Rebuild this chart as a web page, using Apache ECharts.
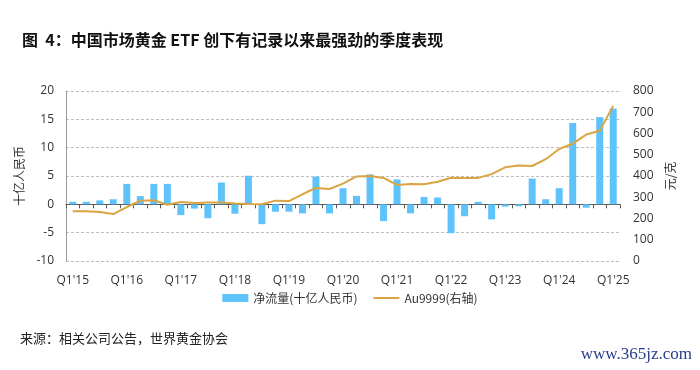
<!DOCTYPE html>
<html><head><meta charset="utf-8">
<script src="https://cdn.jsdelivr.net/npm/echarts@6/dist/echarts.min.js"></script>
<style>html,body{margin:0;padding:0;background:#fff;}#c{width:700px;height:370px;}</style>
</head><body><div id="c"></div>
<script>
var categories = ["Q1'15","Q2'15","Q3'15","Q4'15","Q1'16","Q2'16","Q3'16","Q4'16","Q1'17","Q2'17","Q3'17","Q4'17","Q1'18","Q2'18","Q3'18","Q4'18","Q1'19","Q2'19","Q3'19","Q4'19","Q1'20","Q2'20","Q3'20","Q4'20","Q1'21","Q2'21","Q3'21","Q4'21","Q1'22","Q2'22","Q3'22","Q4'22","Q1'23","Q2'23","Q3'23","Q4'23","Q1'24","Q2'24","Q3'24","Q4'24","Q1'25"];
var netFlows = [0.45,0.45,0.7,0.9,3.6,1.45,3.6,3.6,-1.9,-0.75,-2.45,3.85,-1.65,5.05,-3.5,-1.3,-1.3,-1.6,4.9,-1.6,2.85,1.5,5.3,-2.95,4.4,-1.6,1.3,1.2,-5.1,-2.1,0.45,-2.65,-0.4,-0.35,4.55,0.9,2.85,14.35,-0.6,15.4,16.9];
var au9999 = [234,234,231,221,254,284,286,265,278,273,275,275,271,268,267,284,282,314,344,339,364,398,400,391,358,362,361,373,392,391,391,409,441,449,447,479,527,552,595,613,730];
var seriesNames = ['净流量(十亿人民币)', 'Au9999(右轴)'];
var titleText = '图  4：中国市场黄金 ETF 创下有记录以来最强劲的季度表现';
var sourceText = '来源：相关公司公告，世界黄金协会';
var watermarkText = 'www.365jz.com';
var leftAxisName = '十亿人民币';
var rightAxisName = '元/克';

var chart = echarts.init(document.getElementById('c'), null, {renderer: 'canvas'});
var labelFont = {color: '#333', fontSize: 12, fontFamily: 'Open Sans, Noto Sans CJK SC, sans-serif'};
chart.setOption({
  animation: false,
  title: {
    text: titleText, left: 17, top: 27,
    textStyle: {fontSize: 16, fontWeight: 'bold', color: '#111', fontFamily: 'Noto Sans CJK SC, sans-serif'}
  },
  graphic: [
    {type: 'text', left: 20, top: 332, style: {text: sourceText, fontSize: 13, fill: '#222', fontFamily: 'Noto Sans CJK SC, sans-serif'}},
    {type: 'text', right: 8, top: 346, style: {text: watermarkText, fontSize: 17, fill: '#2a3c8c', fontFamily: 'Liberation Serif, DejaVu Serif, serif'}}
  ],
  legend: {
    left: 'center', top: 287, itemGap: 16, itemWidth: 26, itemHeight: 8, symbolKeepAspect: true,
    textStyle: {color: '#333', fontSize: 12, fontFamily: 'Noto Sans CJK SC, sans-serif'},
    data: [
      {name: seriesNames[0], icon: 'rect'},
      {name: seriesNames[1], icon: 'path://M0,0L26,0L26,2L0,2Z'}
    ]
  },
  grid: {left: 66, right: 80, top: 91, bottom: 109, containLabel: false},
  xAxis: [
    {
      type: 'category', data: categories, position: 'bottom',
      axisLine: {show: false, onZero: false}, axisTick: {show: false},
      axisLabel: Object.assign({interval: 3, margin: 14}, labelFont),
      splitLine: {show: false}
    },
    {
      type: 'category', data: categories, position: 'top',
      axisLine: {show: true, onZero: true, onZeroAxisIndex: 0, lineStyle: {color: '#595959', width: 1}},
      axisTick: {show: true, inside: true, length: 4, interval: 0, lineStyle: {color: '#595959'}},
      axisLabel: {show: false}, splitLine: {show: false}
    }
  ],
  yAxis: [
    {
      type: 'value', min: -10, max: 20, interval: 5, position: 'left',
      name: leftAxisName, nameLocation: 'middle', nameGap: 34, nameRotate: 90,
      nameTextStyle: {color: '#333', fontSize: 12, fontFamily: 'Noto Sans CJK SC, sans-serif'},
      axisLine: {show: true, lineStyle: {color: '#999'}}, axisTick: {show: false},
      axisLabel: Object.assign({margin: 12}, labelFont),
      splitLine: {show: true, lineStyle: {color: '#bdbdbd', type: [3, 2], width: 1}}
    },
    {
      type: 'value', min: 0, max: 800, interval: 100, position: 'right',
      name: rightAxisName, nameLocation: 'middle', nameGap: 43, nameRotate: 90,
      nameTextStyle: {color: '#333', fontSize: 12, fontFamily: 'Noto Sans CJK SC, sans-serif'},
      axisLine: {show: false}, axisTick: {show: false},
      axisLabel: Object.assign({margin: 13}, labelFont),
      splitLine: {show: false}
    }
  ],
  series: [
    {
      name: seriesNames[0], type: 'bar', xAxisIndex: 0, yAxisIndex: 0,
      data: netFlows, barWidth: 7, itemStyle: {color: '#5fc3fb'}
    },
    {
      name: seriesNames[1], type: 'line', xAxisIndex: 0, yAxisIndex: 1,
      data: au9999, showSymbol: false, symbol: 'none',
      lineStyle: {color: '#d9a441', width: 2}, itemStyle: {color: '#d9a441'}, z: 3
    }
  ]
});
</script></body></html>
